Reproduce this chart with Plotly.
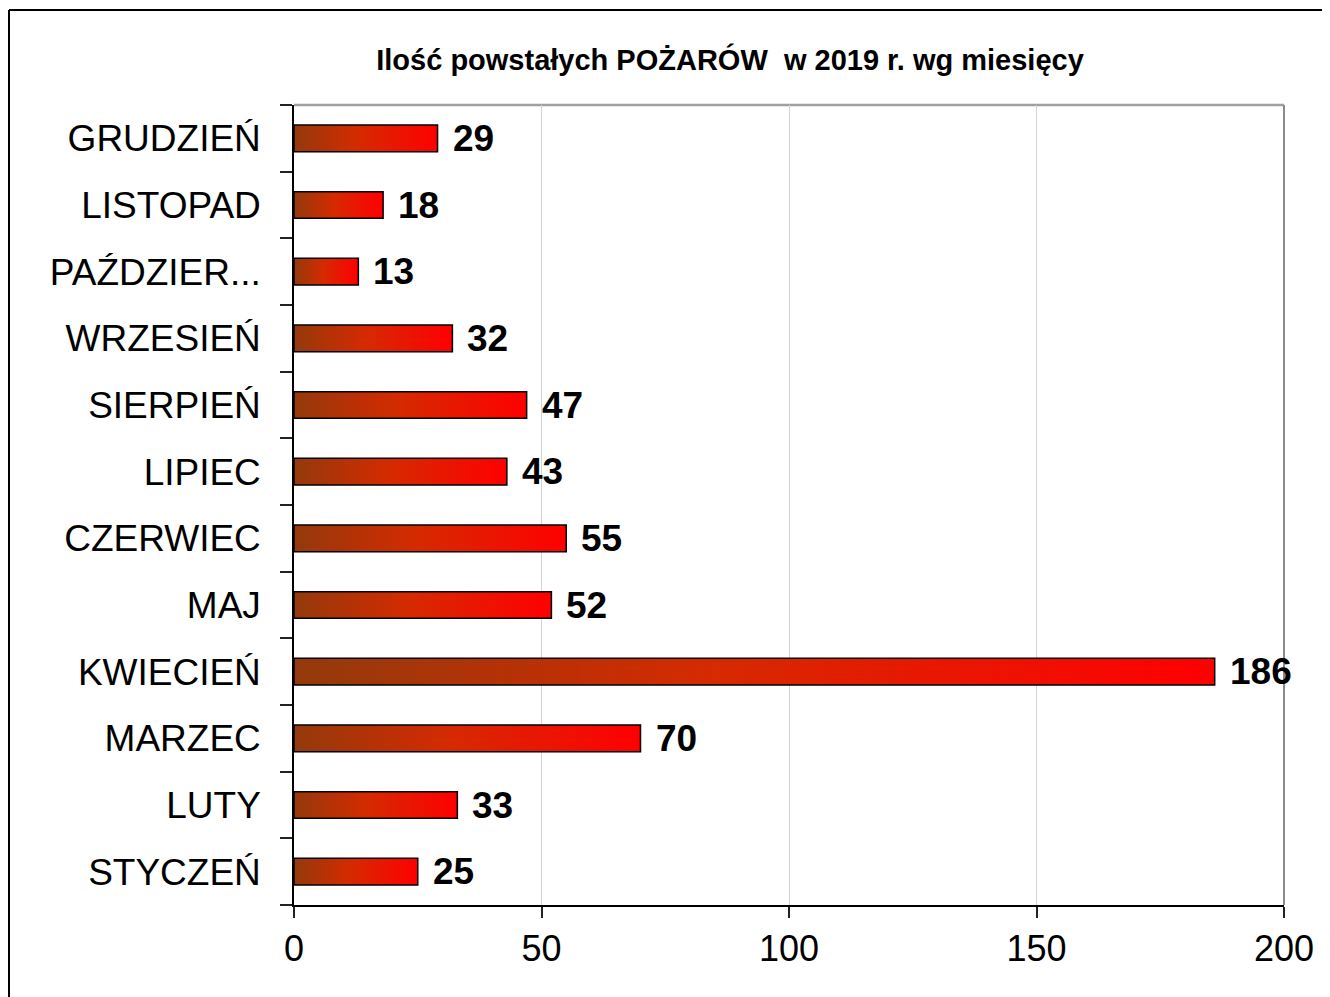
import plotly.graph_objects as go

months = ["STYCZEŃ", "LUTY", "MARZEC", "KWIECIEŃ", "MAJ", "CZERWIEC", "LIPIEC",
          "SIERPIEŃ", "WRZESIEŃ", "PAŹDZIER...", "LISTOPAD", "GRUDZIEŃ"]
fires = [25, 33, 70, 186, 52, 55, 43, 47, 32, 13, 18, 29]
x_ticks = [0, 50, 100, 150, 200]
title_text = "Ilość powstałych POŻARÓW  w 2019 r. wg miesięcy"

FONT = "Liberation Sans, Arial, sans-serif"
half = 0.2  # half bar thickness in category units

fig = go.Figure()
for i, v in enumerate(fires):
    fig.add_trace(go.Scatter(
        x=[0, v, v, 0, 0],
        y=[i - half, i - half, i + half, i + half, i - half],
        mode="lines", fill="toself",
        fillgradient=dict(type="horizontal",
                          colorscale=[[0, "#933a0c"], [0.45, "#d52a00"], [1, "#ff0000"]]),
        line=dict(color="black", width=1.5),
        hoverinfo="skip", showlegend=False))

annotations = []
for i, v in enumerate(fires):
    annotations.append(dict(x=v, y=i, xref="x", yref="y", text=str(v),
                            showarrow=False, xanchor="left", yanchor="middle",
                            xshift=13,
                            font=dict(family=FONT, size=37, color="black", weight="bold")))

L, T, PW, PH = 286, 97, 990, 800
fx = (1 - L) / PW
fy = 1 + (T - 2) / PH

shapes = [
    # outer frame (top and left)
    dict(type="line", xref="paper", yref="paper", x0=fx, x1=1.2, y0=fy, y1=fy,
         line=dict(color="black", width=2)),
    dict(type="line", xref="paper", yref="paper", x0=fx, x1=fx, y0=fy, y1=-0.3,
         line=dict(color="black", width=2)),
    # plot area top & right borders
    dict(type="line", xref="paper", yref="paper", x0=0, x1=1, y0=1, y1=1,
         line=dict(color="#a0a0a0", width=2.5), layer="below"),
    dict(type="line", xref="paper", yref="paper", x0=1, x1=1, y0=0, y1=1,
         line=dict(color="#8a8a8a", width=2), layer="below"),
]

fig.update_layout(
    width=1330, height=997,
    margin=dict(l=L, r=1330 - L - PW, t=T, b=997 - T - PH),
    paper_bgcolor="white", plot_bgcolor="white",
    title=dict(text=title_text, x=722 / 1330, xref="container", xanchor="center",
               y=1 - 52 / 997, yref="container", yanchor="middle",
               font=dict(family=FONT, size=29, color="black", weight="bold")),
    xaxis=dict(range=[0, 200], tickvals=x_ticks, ticks="outside", ticklen=11,
               tickcolor="#222", tickwidth=1.5,
               showgrid=True, gridcolor="#d4d4d4", gridwidth=1,
               showline=True, linecolor="black", linewidth=1.5, zeroline=False,
               tickfont=dict(family=FONT, size=36, color="black"),
               ticklabelstandoff=0),
    yaxis=dict(range=[-0.5, 11.5], tickvals=list(range(len(months))), ticktext=months,
               ticks="", showgrid=False, zeroline=False,
               showline=True, linecolor="black", linewidth=1.5,
               tickfont=dict(family=FONT, size=37, color="black"),
               ticklabelstandoff=24,
               minor=dict(tickvals=[i - 0.5 for i in range(len(months) + 1)],
                          ticks="outside", ticklen=12, tickcolor="#222", tickwidth=1.5,
                          showgrid=False)),
    annotations=annotations,
    shapes=shapes,
)

fig.write_html("out.html")
